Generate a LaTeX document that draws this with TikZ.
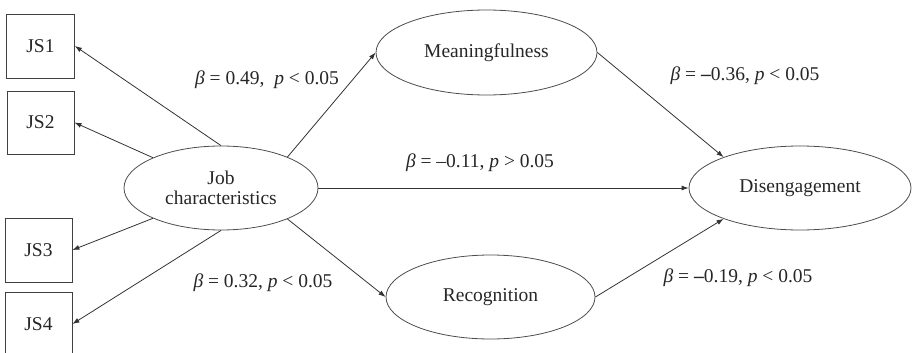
\documentclass[tikz,border=0pt]{standalone}
\usepackage{fontspec}
\setmainfont{Liberation Serif}
\usetikzlibrary{shapes.geometric,arrows.meta}
\begin{document}
\begin{tikzpicture}[x=1pt,y=-1pt,
  every node/.style={font=\fontsize{19.5}{23}\selectfont, text=black!85},
  jsbox/.style={draw=black!75, line width=0.8pt, minimum width=68pt, minimum height=64pt, inner sep=0pt},
  latent/.style={draw=black!70, line width=0.8pt, ellipse, inner sep=0pt, align=center},
  arr/.style={draw=black!80, line width=0.8pt, -{Latex[length=7pt,width=5pt]}},
  lbl/.style={inner sep=0pt}
]
\clip (0,0) rectangle (912,353);
\useasboundingbox (0,0) rectangle (912,353);
\node[jsbox] (js1) at (40.5,46) {JS1};
\node[jsbox, minimum width=67pt, minimum height=63pt] (js2) at (40.5,122.5) {JS2};
\node[jsbox, minimum width=67pt] (js3) at (38.5,250) {JS3};
\node[jsbox, minimum width=67pt] (js4) at (38.5,324) {JS4};
\node[latent, minimum width=194pt, minimum height=84pt] (jc) at (221,188) {Job\\[-3pt]characteristics};
\node[latent, minimum width=221pt, minimum height=85pt] (m) at (486.5,52.5) {Meaningfulness};
\node[latent, minimum width=209pt, minimum height=84pt] (r) at (490.5,297) {Recognition};
\node[latent, minimum width=222pt, minimum height=84pt] (d) at (800,188) {Disengagement};

\draw[arr] (jc.north) -- (js1.east);
\draw[arr] (jc.156) -- (js2.east);
\draw[arr] (jc.204) -- (js3.east);
\draw[arr] (jc.south) -- (js4.east);
\draw[arr] (jc.25) -- (m.west);
\draw[arr] (jc.east) -- (d.west);
\draw[arr] (jc.-25) -- (r.west);
\draw[arr] (m.east) -- (d.158);
\draw[arr] (r.east) -- (d.202);

\node[lbl] (l1) at (267,80) {\textit{β} = 0.49,\ \ \textit{p} < 0.05};
\node[lbl] (l2) at (480,163) {\textit{β} = –0.11, \textit{p} > 0.05};
\node[lbl] (l3) at (263,283) {\textit{β} = 0.32, \textit{p} < 0.05};
\node[lbl] (l4) at (745,76) {\textit{β} = \textbf{–}0.36, \textit{p} < 0.05};
\node[lbl] (l5) at (738,278) {\textit{β} = \textbf{–}0.19, \textit{p} < 0.05};
\end{tikzpicture}
\end{document}
